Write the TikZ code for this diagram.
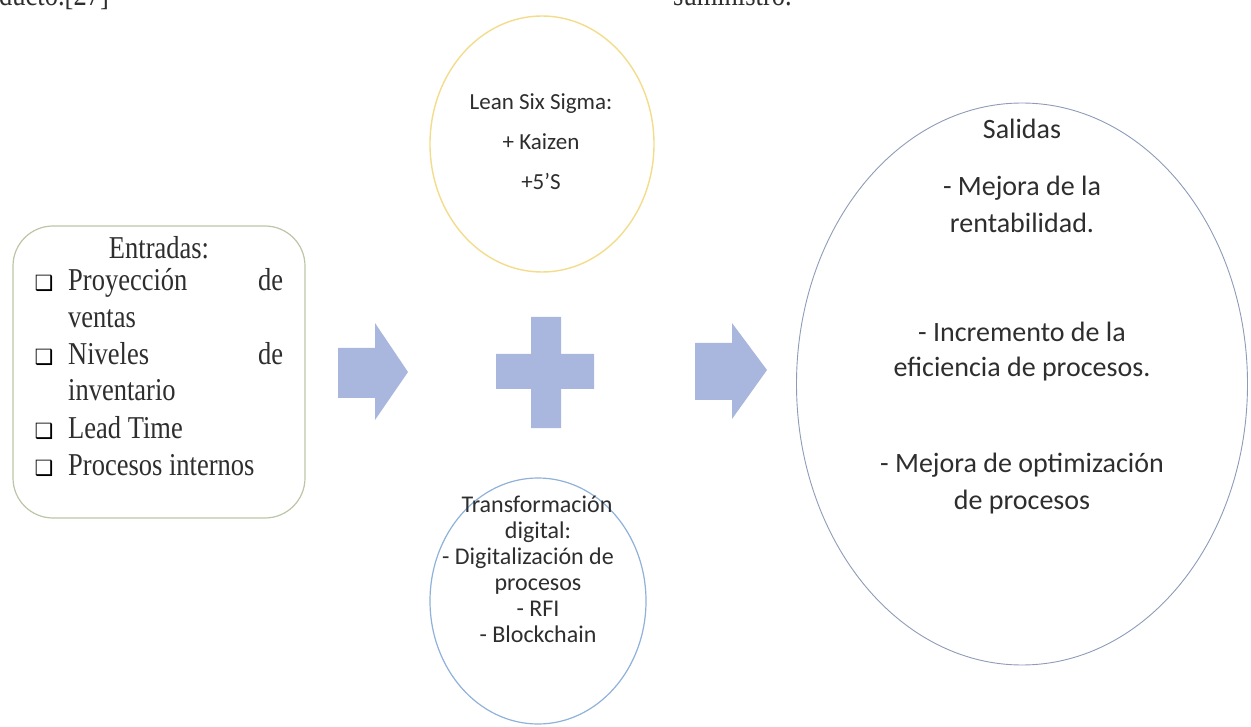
\documentclass[tikz,border=0pt]{standalone}
\usepackage{fontspec}
\setmainfont{Liberation Serif}
\newfontfamily\calib{Carlito}
\newfontfamily\dejavu{DejaVu Sans}
\usetikzlibrary{shapes.geometric}
\definecolor{arrowfill}{HTML}{A9B6DD}
\definecolor{boxline}{HTML}{BCC6A6}
\definecolor{leanline}{HTML}{F3DC8C}
\definecolor{digline}{HTML}{8FB1DA}
\definecolor{salline}{HTML}{8E9CB8}
\definecolor{txt}{HTML}{2E2E2E}
\newcommand\tallt[1]{\scalebox{1}[1.2]{#1}}
\begin{document}
\begin{tikzpicture}[x=1pt,y=-1pt,
  serif/.style={font=\fontsize{26.5}{30}\selectfont, text=txt, inner sep=0pt},
  cal/.style={font=\calib\fontsize{#1}{#1}\selectfont, text=txt, inner sep=0pt},
  chk/.style={font=\dejavu\fontsize{21}{21}\selectfont, text=black, inner sep=0pt, anchor=base},
  ring/.style={ellipse, draw=#1, fill=white, inner sep=0pt},
  block/.style={fill=arrowfill, draw=none}]
\useasboundingbox (0,0) rectangle (1251,727);
\clip (0,0) rectangle (1251,727);

% page text cut off at the top
\node[serif, anchor=base west] (t1) at (-1,6) {\tallt{ducto.[27]}};
\node[serif, anchor=base west] (t2) at (673,6) {\tallt{suministro.}};

% Entradas box
\node[draw=boxline, line width=1.2pt, rounded corners=40pt, fill=white,
      minimum width=292pt, minimum height=292pt, inner sep=0pt] (entradas) at (159,372) {};
\node[serif, anchor=base] (e0) at (159,259) {\tallt{Entradas:}};
\node[chk] (c1) at (44,291) {❑};
\node[serif, anchor=base west] (e1) at (68,291) {\tallt{\hbox to 215pt{Proyección\hfill de}}};
\node[serif, anchor=base west] (e2) at (68,328) {\tallt{ventas}};
\node[chk] (c2) at (44,365) {❑};
\node[serif, anchor=base west] (e3) at (68,365) {\tallt{\hbox to 215pt{Niveles\hfill de}}};
\node[serif, anchor=base west] (e4) at (68,401) {\tallt{inventario}};
\node[chk] (c3) at (44,438) {❑};
\node[serif, anchor=base west] (e5) at (68,438) {\tallt{Lead Time}};
\node[chk] (c4) at (44,475) {❑};
\node[serif, anchor=base west] (e6) at (68,475) {\tallt{Procesos internos}};

% Lean Six Sigma circle
\node[ring=leanline, line width=1.4pt, minimum width=224pt, minimum height=256pt] (lean) at (542,144) {};
\node[cal=23, anchor=base] (l1) at (541,110) {Lean Six Sigma:};
\node[cal=23, anchor=base] (l2) at (541,150) {+ Kaizen};
\node[cal=23, anchor=base] (l3) at (541,190) {+5’S};

% Transformacion digital circle
\node[ring=digline, line width=1.2pt, minimum width=216pt, minimum height=246pt] (dig) at (538,601) {};
\node[cal=24, anchor=base] (d1) at (537,512) {Transformación};
\node[cal=24, anchor=base] (d2) at (538,538) {digital:};
\node[cal=24, anchor=base] (d3) at (528,564) {- Digitalización de};
\node[cal=24, anchor=base] (d4) at (538,590) {procesos};
\node[cal=24, anchor=base] (d5) at (538,616) {- RFI};
\node[cal=24, anchor=base] (d6) at (538,642) {- Blockchain};

% Salidas circle
\node[ring=salline, line width=0.9pt, minimum width=451pt, minimum height=562pt] (sal) at (1022,384) {};
\node[cal=28, anchor=base] (s0) at (1022,139) {Salidas};
\node[cal=28, anchor=base] (s1) at (1022,196) {- Mejora de la};
\node[cal=28, anchor=base] (s2) at (1022,233) {rentabilidad.};
\node[cal=28, anchor=base] (s3) at (1022,342) {- Incremento de la};
\node[cal=28, anchor=base] (s4) at (1022,377) {eficiencia de procesos.};
\node[cal=28, anchor=base] (s5) at (1022,472) {- Mejora de optimización};
\node[cal=28, anchor=base] (s6) at (1022,509) {de procesos};

% block arrows and plus
\fill[block] (338,348) -- (375,348) -- (375,323) -- (408,372) -- (375,420) -- (375,398) -- (338,398) -- cycle;
\fill[block] (531,317) -- (561,317) -- (561,354) -- (594,354) -- (594,389) -- (561,389) -- (561,428) -- (531,428) -- (531,389) -- (496,389) -- (496,354) -- (531,354) -- cycle;
\fill[block] (695,343) -- (732,343) -- (732,323) -- (767,370) -- (732,419) -- (732,400) -- (695,400) -- cycle;
\end{tikzpicture}
\end{document}
